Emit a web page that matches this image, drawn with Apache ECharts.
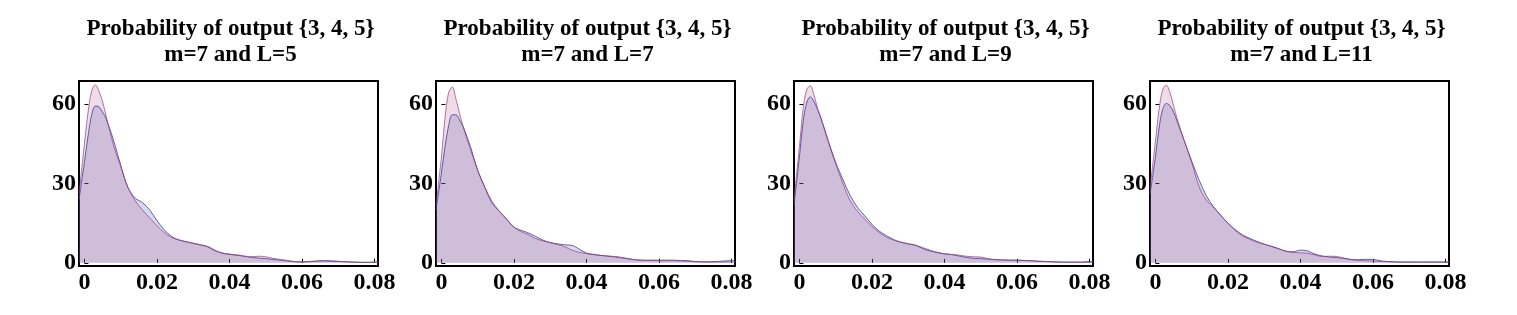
<!DOCTYPE html>
<html>
<head>
<meta charset="utf-8">
<script src="https://cdn.jsdelivr.net/npm/echarts@6/dist/echarts.min.js"></script>
<style>
html,body{margin:0;padding:0;background:#fff;}
#chart{width:1517px;height:315px;}
</style>
</head>
<body>
<div id="chart"></div>
<script>
// ---- data ----
const titleLine1 = 'Probability of output {3, 4, 5}';
const panelSubtitles = ['m=7 and L=5', 'm=7 and L=7', 'm=7 and L=9', 'm=7 and L=11'];
const xTicks = [0, 0.02, 0.04, 0.06, 0.08];
const yTicks = [0, 30, 60];
const xs = [-0.0015, 0, 0.001, 0.002, 0.003, 0.004, 0.005, 0.006, 0.008, 0.010, 0.012, 0.014, 0.016, 0.018, 0.020, 0.022, 0.024, 0.026, 0.028, 0.030, 0.032, 0.034, 0.036, 0.038, 0.040, 0.042, 0.044, 0.046, 0.048, 0.050, 0.052, 0.054, 0.056, 0.058, 0.060, 0.062, 0.064, 0.066, 0.068, 0.070, 0.072, 0.074, 0.076, 0.078, 0.080, 0.081];

const pinkL5 = [26, 45, 57, 65, 67.3, 65, 61, 55.5, 44.5, 36.5, 28.5, 23.5, 20, 17, 14, 11.5, 9.6, 8.7, 8, 7.4, 6.8, 6, 4.5, 3.8, 3.3, 3, 2.6, 2.3, 2.5, 2.3, 1.7, 1.3, 0.9, 0.5, 0.4, 0.5, 0.7, 0.9, 0.8, 0.6, 0.4, 0.3, 0.2, 0.15, 0.3, 0.3];
const blueL5 = [24, 38, 48, 56, 59.3, 59, 57, 54.5, 46.5, 37, 28.5, 24.5, 22.8, 20, 16, 12.5, 10, 8.7, 8, 7.4, 6.8, 6.2, 4.8, 3.6, 3.2, 2.9, 2.5, 2.1, 1.8, 1.6, 1.3, 1, 0.7, 0.4, 0.3, 0.4, 0.6, 0.7, 0.6, 0.5, 0.4, 0.3, 0.2, 0.2, 0.2, 0.2];

const pinkL7 = [22, 40, 55, 64.5, 66.5, 62, 56.5, 51.5, 43, 35, 28.5, 23.2, 19.5, 16.5, 13.5, 11.8, 10.6, 9.2, 8.3, 7.6, 6.9, 6.1, 4.8, 4.0, 3.5, 3.1, 2.8, 2.6, 2.4, 2.0, 1.5, 1.1, 0.9, 0.9, 0.8, 0.8, 0.8, 0.7, 0.6, 0.4, 0.3, 0.3, 0.3, 0.3, 0.3, 0.3];
const blueL7 = [20, 34, 44, 52, 56, 56, 54, 51.5, 44, 35, 28.5, 22.5, 19.5, 16.5, 13.5, 12.3, 11.3, 10, 8.6, 7.7, 7.2, 6.8, 6.6, 5.2, 3.7, 3.2, 2.8, 2.5, 2.2, 1.8, 1.4, 1.1, 1.0, 1.0, 1.0, 1.0, 1.0, 0.9, 0.8, 0.5, 0.4, 0.4, 0.5, 0.7, 0.8, 0.8];

const pinkL9 = [24, 44, 58, 65.5, 67, 63.5, 58.5, 54.5, 45.5, 37.5, 30, 23.5, 19.5, 16.5, 13.8, 11.5, 9.7, 8.6, 7.8, 7.2, 6.6, 5.8, 4.8, 4.0, 3.4, 3.2, 2.9, 2.5, 2.3, 2.2, 1.6, 1.2, 1.1, 1.0, 1.0, 0.9, 0.8, 0.6, 0.5, 0.4, 0.3, 0.2, 0.2, 0.2, 0.2, 0.2];
const blueL9 = [22, 40, 53, 60.5, 62.8, 61, 58, 54.5, 46, 38, 31.5, 25.5, 21, 17.8, 14.6, 12, 10.3, 8.8, 7.8, 7.2, 6.7, 5.4, 4.5, 3.9, 3.4, 3.1, 2.6, 2.1, 1.7, 1.6, 1.4, 1.2, 1.1, 1.0, 1.0, 0.9, 0.8, 0.6, 0.5, 0.4, 0.3, 0.3, 0.3, 0.3, 0.5, 0.5];

const pinkL11 = [28, 46, 58, 65.5, 67.2, 64.5, 59.5, 54.5, 46, 38, 29, 23.8, 21.2, 18, 15, 12.3, 10.2, 8.9, 7.8, 7.0, 6.3, 5.4, 4.4, 3.9, 3.8, 3.6, 3.0, 2.4, 2.5, 2.4, 1.8, 1.2, 0.9, 0.8, 0.7, 0.5, 0.4, 0.3, 0.3, 0.3, 0.3, 0.3, 0.3, 0.3, 0.3, 0.3];
const blueL11 = [26, 40, 51, 58, 60.3, 59.5, 57, 53.5, 46, 38.5, 31.5, 25.5, 21.2, 18, 15, 12.6, 10.6, 9.3, 8.1, 7.1, 6.2, 5.3, 4.4, 4.2, 4.8, 4.5, 3.3, 2.6, 2.2, 2.0, 1.7, 1.3, 1.2, 1.3, 1.3, 0.8, 0.5, 0.4, 0.3, 0.3, 0.3, 0.3, 0.3, 0.3, 0.3, 0.3];

const pinkSeries = [pinkL5, pinkL7, pinkL9, pinkL11];
const blueSeries = [blueL5, blueL7, blueL9, blueL11];

// ---- layout / style ----
const gridLefts = [79, 436, 794, 1150];
const gridWidth = 299;
const gridTop = 81;
const gridBottom = 49;
const font = '"Liberation Serif", "Times New Roman", serif';

const grids = [], xAxes = [], yAxes = [], series = [], titles = [];
for (let i = 0; i < 4; i++) {
  grids.push({left: gridLefts[i], width: gridWidth, top: gridTop, bottom: gridBottom,
    show: true, borderColor: '#000', borderWidth: 2, backgroundColor: '#fff'});
  xAxes.push({type: 'value', gridIndex: i, min: -0.0015, max: 0.081,
    splitLine: {show: false},
    axisLine: {show: false},
    axisTick: {show: true, inside: true, length: 4, lineStyle: {color: '#000', width: 1}, customValues: xTicks},
    axisLabel: {show: true, customValues: xTicks, margin: 5, color: '#000', fontFamily: font, fontWeight: 'bold', fontSize: 24,
      formatter: v => String(v)}
  });
  yAxes.push({type: 'value', gridIndex: i, min: -1.2, max: 68.8,
    splitLine: {show: false},
    axisLine: {show: false},
    axisTick: {show: true, inside: true, length: 4, lineStyle: {color: '#000', width: 1}, customValues: yTicks},
    axisLabel: {show: true, customValues: yTicks, margin: 3, color: '#000', fontFamily: font, fontWeight: 'bold', fontSize: 24}
  });
  titles.push({text: titleLine1 + '\n' + panelSubtitles[i], left: gridLefts[i] + gridWidth / 2 - 3, top: 11,
    textAlign: 'center',
    textStyle: {fontFamily: font, fontWeight: 'bold', fontSize: 23, lineHeight: 26, color: '#000'}});
  series.push({type: 'line', xAxisIndex: i, yAxisIndex: i, smooth: 0.35, symbol: 'none',
    data: xs.map((x, k) => [x, blueSeries[i][k]]),
    lineStyle: {color: 'rgba(70,70,160,0.85)', width: 1},
    areaStyle: {color: 'rgba(105,105,188,0.36)'}});
  series.push({type: 'line', xAxisIndex: i, yAxisIndex: i, smooth: 0.35, symbol: 'none',
    data: xs.map((x, k) => [x, pinkSeries[i][k]]),
    lineStyle: {color: 'rgba(150,60,120,0.7)', width: 1},
    areaStyle: {color: 'rgba(164,73,132,0.27)'}});
}

const chart = echarts.init(document.getElementById('chart'), null, {renderer: 'canvas'});
chart.setOption({
  animation: false,
  backgroundColor: '#fff',
  title: titles,
  grid: grids,
  xAxis: xAxes,
  yAxis: yAxes,
  series: series
});
</script>
</body>
</html>
